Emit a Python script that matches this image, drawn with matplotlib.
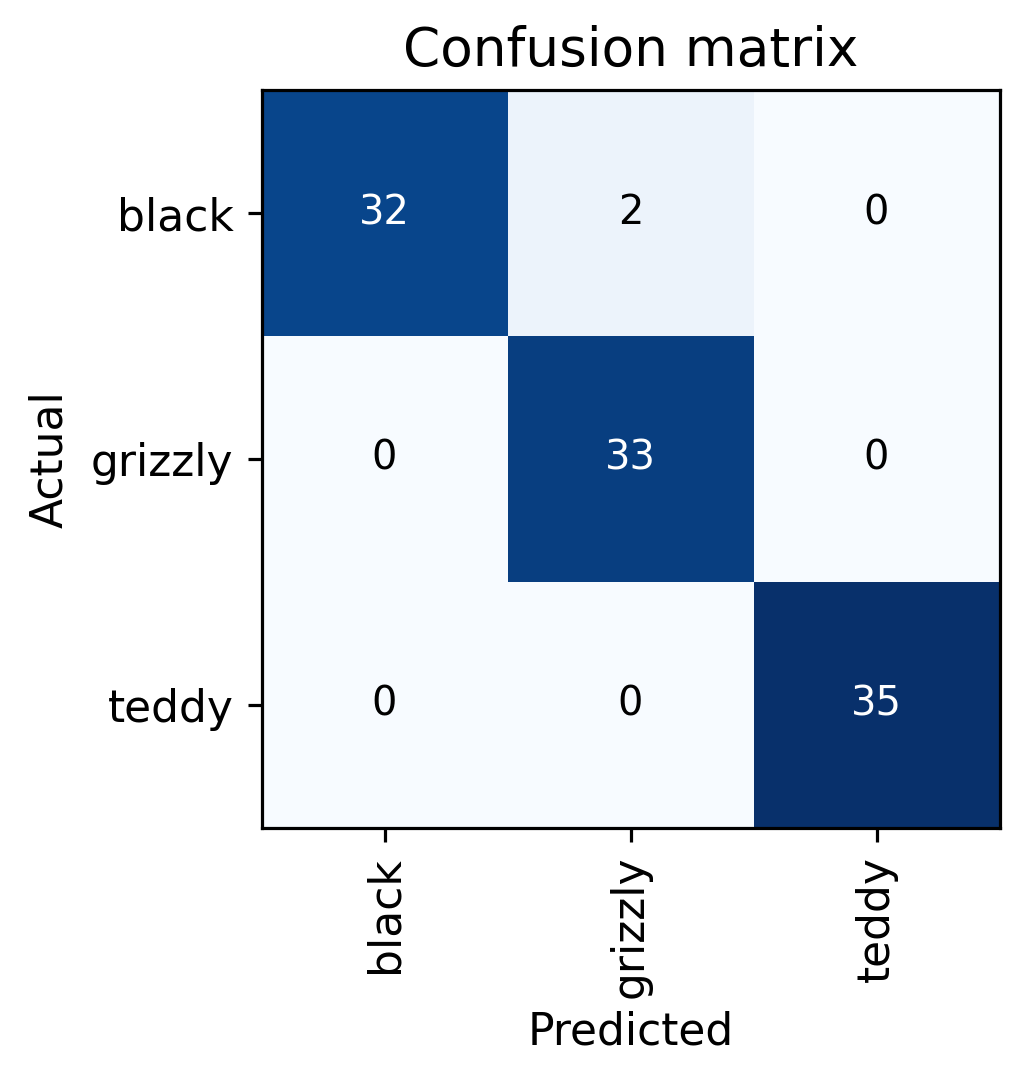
"""
confusion matrix of the bear classifier
"""
import numpy as np
import matplotlib as mpl
mpl.use('Agg')
import matplotlib.pyplot as plt

# data
classes = ['black', 'grizzly', 'teddy']
row_black = [32, 2, 0]
row_grizzly = [0, 33, 0]
row_teddy = [0, 0, 35]
cm = np.array([row_black, row_grizzly, row_teddy])

## plot
ftsize = 11
fig = plt.figure(figsize=(1024/288., 1087/288.), dpi=288)
ax = fig.add_axes([261/1024., 1-828/1087., 739/1024., 738/1087.])

ax.imshow(cm, interpolation='nearest', cmap='Blues')
ax.set_title('Confusion matrix', fontsize=13.3)

tick_marks = np.arange(len(classes))
ax.set_xticks(tick_marks)
ax.set_xticklabels(classes, rotation=90, fontsize=ftsize)
ax.set_yticks(tick_marks)
ax.set_yticklabels(classes, rotation=0, fontsize=ftsize)

# cell texts
thresh = cm.max() / 2.
for i in range(cm.shape[0]):
    for j in range(cm.shape[1]):
        ax.text(j, i, '{}'.format(cm[i, j]),
                horizontalalignment='center', verticalalignment='center',
                color='white' if cm[i, j] > thresh else 'black')

ax.set_ylabel('Actual', fontsize=ftsize, labelpad=5)
ax.set_xlabel('Predicted', fontsize=ftsize, labelpad=3)
ax.grid(False)

# save plot
plt.savefig('out.png', dpi=288)
